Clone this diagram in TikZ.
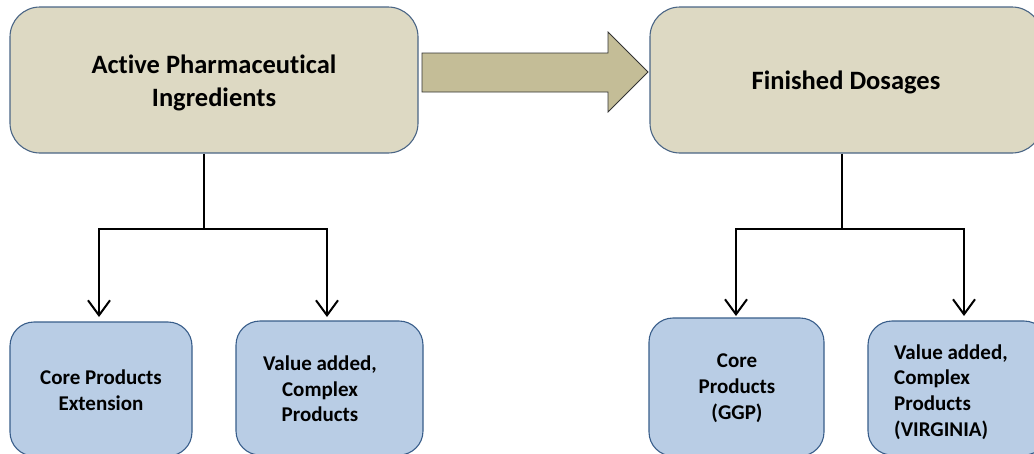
\documentclass[tikz,border=0pt]{standalone}
\usepackage{fontspec}
\setmainfont{Carlito}[Ligatures={NoCommon}]
\usetikzlibrary{arrows.meta}
\definecolor{tanfill}{HTML}{DDD9C3}
\definecolor{tanedge}{HTML}{4A6585}
\definecolor{arrfill}{HTML}{C4BD97}
\definecolor{bluefill}{HTML}{B9CDE5}
\definecolor{blueedge}{HTML}{385D8A}
\tikzset{
  topbox/.style={draw=tanedge, line width=1.1pt, fill=tanfill, rounded corners=30pt, inner sep=0pt},
  botbox/.style={draw=blueedge, line width=1.1pt, fill=bluefill, rounded corners=24pt, inner sep=0pt},
  toptext/.style={font=\fontsize{26.5}{32.5}\selectfont\bfseries, align=center, inner sep=0pt},
  bottext/.style={font=\fontsize{21}{25.7}\selectfont\bfseries, align=center, inner sep=0pt},
  conn/.style={draw=black, line width=2pt},
  connarrow/.style={conn, -{Straight Barb[length=15pt,width=22pt,line width=2pt]}}
}
\begin{document}
\begin{tikzpicture}[x=1pt,y=-1pt]
\useasboundingbox (0,0) rectangle (1034,453);
\clip (0,0) rectangle (1034,453);
% top boxes
\node[topbox, minimum width=408pt, minimum height=146pt] (api) at (214,80) {};
\node[topbox, minimum width=392pt, minimum height=146pt] (fd) at (846,80) {};
\node[toptext] (apit) at (214,83) {Active Pharmaceutical\\Ingredients};
\node[toptext] (fdt) at (846,82) {Finished Dosages};
% big arrow
\draw[fill=arrfill, draw=black!80, line width=0.8pt] (422,53) -- (608,53) -- (608,32) -- (648,72) -- (608,112) -- (608,92) -- (422,92) -- cycle;
% bottom boxes
\node[botbox, minimum width=182pt, minimum height=134pt] (cpe) at (101,389) {};
\node[botbox, minimum width=187pt, minimum height=134pt] (vac) at (329.5,388) {};
\node[botbox, minimum width=175pt, minimum height=138pt] (ggp) at (736.5,387) {};
\node[botbox, minimum width=180pt, minimum height=134pt] (vir) at (958,388) {};
\node[bottext] (cpet) at (101,390) {Core Products\\Extension};
\node[bottext] (vact) at (320,389) {Value added,\\Complex\\Products};
\node[bottext] (ggpt) at (737,388) {Core\\Products\\(GGP)};
\node[bottext, align=left, anchor=west] (virt) at (894,392) {Value added,\\Complex\\Products\\(VIRGINIA)};
% connectors
\coordinate (j1) at (204,229);
\coordinate (j2) at (842,229);
\coordinate (a1) at (99,317);
\coordinate (a2) at (327,317);
\coordinate (a3) at (736,316);
\coordinate (a4) at (964,316);
\draw[conn] (api.south -| j1) -- (j1);
\draw[connarrow] (j1) -| (a1);
\draw[connarrow] (j1) -| (a2);
\draw[conn] (fd.south -| j2) -- (j2);
\draw[connarrow] (j2) -| (a3);
\draw[connarrow] (j2) -| (a4);
\end{tikzpicture}
\end{document}
